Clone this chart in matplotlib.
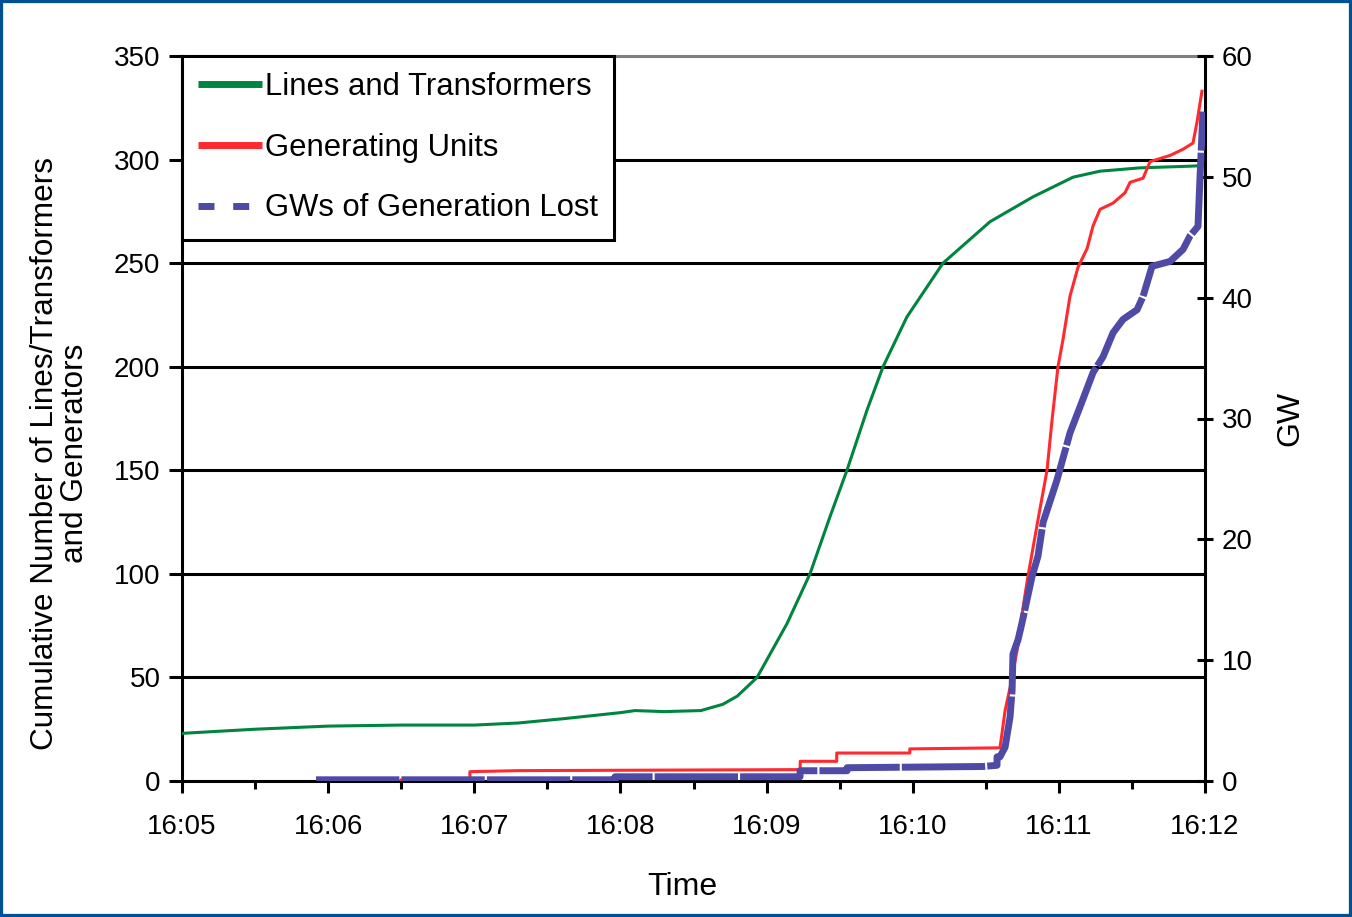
import matplotlib
matplotlib.use("Agg")
import matplotlib.pyplot as plt
from matplotlib.lines import Line2D
from matplotlib.patches import Rectangle
from matplotlib.ticker import FixedLocator, MultipleLocator

plt.rcParams['font.family'] = ['Liberation Sans', 'DejaVu Sans']

# time is in minutes after 16:05
time_labels = ["16:05", "16:06", "16:07", "16:08", "16:09", "16:10", "16:11", "16:12"]

# cumulative lines and transformers tripped
lines_t = [0.0, 0.5, 1.0, 1.5, 2.0, 2.3, 2.6, 3.0, 3.1, 3.3, 3.55, 3.7, 3.8, 3.935,
           4.14, 4.297, 4.434, 4.55, 4.687, 4.797, 4.96, 5.207, 5.529, 5.823,
           6.097, 6.282, 6.555, 6.897, 6.96]
lines_n = [23, 25, 26.5, 27, 27, 28, 30, 33, 34, 33.5, 34, 37, 41, 50,
           76, 100, 127.6, 150, 179, 200, 224, 250, 270, 282,
           291.5, 294.4, 296, 296.8, 297]

# cumulative generating units tripped
gen_t = [1.5, 1.97, 1.97, 2.3, 4.23, 4.23, 4.48, 4.48, 4.98, 4.98, 5.577, 5.597,
         5.611, 5.632, 5.666, 5.714, 5.762, 5.789, 5.857, 5.919, 5.953, 5.994,
         6.028, 6.076, 6.131, 6.193, 6.234, 6.282, 6.371, 6.453, 6.487, 6.576,
         6.624, 6.761, 6.850, 6.918, 6.945, 6.979]
gen_n = [0.5, 0.5, 4.5, 5, 5.5, 9.5, 9.5, 13.5, 13.5, 15.5, 16, 16,
         23, 34, 45, 63, 87, 99, 126, 150, 174, 200,
         213, 234, 248, 257, 268, 276, 279, 284, 289, 291,
         299, 302, 305, 308, 318, 333]

# GW of generation lost
gw_t = [0.917, 2.963, 2.963, 4.229, 4.229, 4.551, 4.551, 5.481, 5.577, 5.577,
        5.597, 5.632, 5.666, 5.680, 5.686, 5.721, 5.748, 5.782, 5.816, 5.857,
        5.892, 5.987, 6.076, 6.165, 6.234, 6.302, 6.371, 6.439, 6.535, 6.576,
        6.638, 6.761, 6.850, 6.897, 6.952, 6.966, 6.986]
gw_lost = [0.1, 0.1, 0.35, 0.35, 0.85, 0.85, 1.1, 1.2, 1.3, 2.0,
           2.0, 2.8, 5.3, 7.5, 10.5, 11.7, 13.1, 15.0, 16.9, 18.6,
           21.4, 24.9, 28.8, 31.6, 33.8, 35.1, 37.1, 38.2, 39.0, 40.1,
           42.6, 43.0, 44.0, 45.1, 45.9, 50.0, 55.4]

green = '#00843f'
red = '#ff2a30'
blue = '#4f4aa6'

fig = plt.figure(figsize=(13.52, 9.17), dpi=100)
ax = fig.add_axes([182 / 1352, 1 - 781 / 917, (1205 - 182) / 1352, (781 - 56) / 917])
ax2 = ax.twinx()

ax.set_xlim(0, 7)
ax.set_ylim(0, 350)
ax2.set_ylim(0, 60)

# horizontal grid
for v in range(50, 350, 50):
    ax.axhline(v, color='black', lw=2.2, zorder=1)

ax.plot(lines_t, lines_n, color=green, lw=2.2, zorder=3)
ax.plot(gen_t, gen_n, color=red, lw=2.2, zorder=4)
ax2.plot(gw_t, gw_lost, color=blue, lw=5, dashes=(12, 0.3), solid_capstyle='butt',
         dash_capstyle='butt', zorder=5)

# spines
for s in ['left', 'bottom']:
    ax.spines[s].set_color('black')
    ax.spines[s].set_linewidth(2.2)
ax.spines['top'].set_color('#808080')
ax.spines['top'].set_linewidth(2.2)
ax.spines['right'].set_visible(False)
for s in ['left', 'top', 'bottom']:
    ax2.spines[s].set_visible(False)
ax2.spines['right'].set_color('black')
ax2.spines['right'].set_linewidth(2.2)

ax.xaxis.set_major_locator(FixedLocator(range(len(time_labels))))
ax.set_xticklabels(time_labels)
ax.xaxis.set_minor_locator(MultipleLocator(0.5))
ax.yaxis.set_major_locator(MultipleLocator(50))
ax2.yaxis.set_major_locator(MultipleLocator(10))

ax.tick_params(axis='x', which='major', direction='out', length=8.5, width=2.2,
               labelsize=20, pad=15)
ax.tick_params(axis='x', which='minor', direction='out', length=6, width=2.2)
ax.tick_params(axis='y', direction='out', length=9.5, width=2.2, labelsize=20, pad=6)
ax2.tick_params(axis='y', direction='inout', length=12, width=2.2, labelsize=20, pad=6)

fig.text(60 / 1352, 1 - 453 / 917,
         "Cumulative Number of Lines/Transformers\nand Generators",
         rotation=90, ha='center', va='center', fontsize=22.7, linespacing=1.0,
         multialignment='center')
fig.text(682 / 1352, 1 - 887 / 917, "Time", ha='center', va='center', fontsize=23)
fig.text(1290 / 1352, 1 - 418 / 917, "GW", rotation=90, ha='center', va='center',
         fontsize=23)

handles = [
    Line2D([], [], color=green, lw=5, solid_capstyle='butt'),
    Line2D([], [], color=red, lw=5, solid_capstyle='butt'),
    Line2D([], [], color=blue, lw=5, dashes=(2.3, 2.7), dash_capstyle='butt'),
]
labels = ["Lines and Transformers", "Generating Units", "GWs of Generation Lost"]
leg = ax2.legend(handles, labels, loc='upper left', bbox_to_anchor=(0, 1),
                 borderaxespad=0, fancybox=False, framealpha=1, edgecolor='black',
                 fontsize=22.3, handlelength=2.05, handletextpad=0.12,
                 borderpad=0.52, labelspacing=0.99)
leg.get_frame().set_linewidth(2.2)
leg.set_zorder(10)

fig.patches.append(Rectangle((0, 0), 1, 1, transform=fig.transFigure, fill=False,
                             edgecolor='#005096', lw=4.5))

fig.savefig("out.png", dpi=100)
